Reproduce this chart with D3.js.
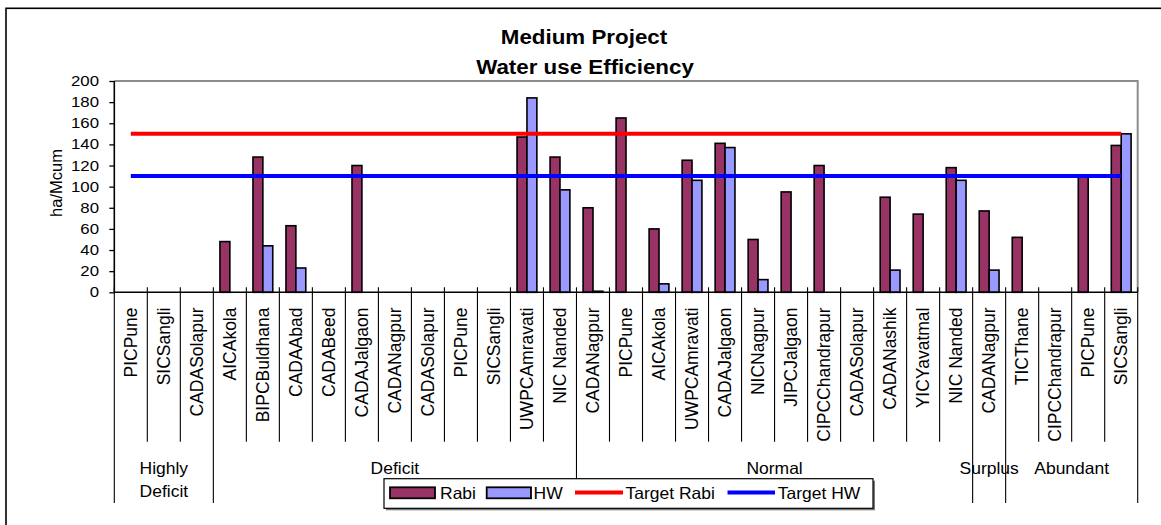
<!DOCTYPE html>
<html>
<head>
<meta charset="utf-8">
<script src="https://cdn.jsdelivr.net/npm/d3@7/dist/d3.min.js"></script>
<style>
  html, body { margin: 0; padding: 0; background: #fff; }
  svg { display: block; }
  text { font-family: "Liberation Sans", Arial, sans-serif; fill: #000; }
</style>
</head>
<body>
<svg id="chart" width="1161" height="525"></svg>
<script>
// Projects (x categories), grouped by water availability zone
const categories = [
  "PICPune", "SICSangli", "CADASolapur",
  "AICAkola", "BIPCBuldhana", "CADAAbad", "CADABeed", "CADAJalgaon", "CADANagpur",
  "CADASolapur", "PICPune", "SICSangli", "UWPCAmravati", "NIC Nanded",
  "CADANagpur", "PICPune", "AICAkola", "UWPCAmravati", "CADAJalgaon", "NICNagpur",
  "JIPCJalgaon", "CIPCChandrapur", "CADASolapur", "CADANashik", "YICYavatmal", "NIC Nanded",
  "CADANagpur",
  "TICThane", "CIPCChandrapur", "PICPune", "SICSangli"
];
const groupNames = [["Highly", "Deficit"], ["Deficit"], ["Normal"], ["Surplus"], ["Abundant"]];
const groupSizes = [3, 11, 12, 1, 4];

// Water use efficiency, ha/Mcum (null = no value)
const rabi = [
  null, null, null,
  48, 128, 63, null, 120, null, null, null, null, 147, 128,
  80, 165, 60, 125, 141, 50, 95, 120, null, 90, 74, 118,
  77,
  52, null, 109, 139
];
const hw = [
  null, null, null,
  null, 44, 23, null, null, null, null, null, null, 184, 97,
  1, null, 8, 106, 137, 12, null, null, null, 21, null, 106,
  21,
  null, null, null, 150
];
const targetRabi = [150, 150];
const targetHW = [110, 110];
const yTicks = [0, 20, 40, 60, 80, 100, 120, 140, 160, 180, 200];

const svg = d3.select("#chart");
const plotL = 114.3, plotR = 1137.7, plotT = 81, plotB = 292.3;

const x = d3.scaleBand().domain(d3.range(categories.length)).range([plotL, plotR]).padding(0);
const y = d3.scaleLinear().domain([0, 200]).range([plotB, plotT]);
const step = x.step();
const cx = i => x(i) + step / 2;
const bw = step * 0.3;

// text placed at the origin, then moved, rotated and widened by a transform
function label(g, str, tx, ty, opts) {
  return g.append("text")
    .attr("transform", `translate(${tx},${ty}) ${opts.rotate ? "rotate(-90)" : ""} scale(${opts.sx || 1},1)`)
    .attr("text-anchor", opts.anchor || "start")
    .style("font-size", opts.size + "px")
    .style("font-weight", opts.weight || "normal")
    .text(str);
}

// outer chart frame
svg.append("rect").attr("x", 6).attr("y", 8.3).attr("width", 1200).attr("height", 600)
  .attr("fill", "none").attr("stroke", "#000").attr("stroke-width", 1.6);

// title
label(svg, "Medium Project", 584, 43.5, { anchor: "middle", size: 20.5, weight: "bold", sx: 1.09 });
label(svg, "Water use Efficiency", 585, 73.5, { anchor: "middle", size: 20.5, weight: "bold", sx: 1.09 });

// plot area border (top and right)
svg.append("path")
  .attr("d", `M${plotL},${plotT}H${plotR}V${plotB}`)
  .attr("fill", "none").attr("stroke", "#8c8c8c").attr("stroke-width", 2);

// bars
const bars = svg.append("g");
bars.selectAll("rect.rabi")
  .data(rabi.map((v, i) => ({ v, i })).filter(d => d.v !== null))
  .join("rect").attr("class", "rabi")
  .attr("x", d => cx(d.i) - bw).attr("width", bw)
  .attr("y", d => y(d.v)).attr("height", d => y(0) - y(d.v))
  .attr("fill", "#993366").attr("stroke", "#000").attr("stroke-width", 1.6);
bars.selectAll("rect.hw")
  .data(hw.map((v, i) => ({ v, i })).filter(d => d.v !== null))
  .join("rect").attr("class", "hw")
  .attr("x", d => cx(d.i)).attr("width", bw)
  .attr("y", d => y(d.v)).attr("height", d => y(0) - y(d.v))
  .attr("fill", "#9999ff").attr("stroke", "#000").attr("stroke-width", 1.6);

// target lines from first to last category centre
const last = categories.length - 1;
const line = d3.line().x(d => d[0]).y(d => y(d[1]));
svg.append("path").attr("d", line([[cx(0), targetRabi[0]], [cx(last), targetRabi[1]]]))
  .attr("stroke", "#ff0000").attr("stroke-width", 4).attr("fill", "none");
svg.append("path").attr("d", line([[cx(0), targetHW[0]], [cx(last), targetHW[1]]]))
  .attr("stroke", "#0000ff").attr("stroke-width", 4).attr("fill", "none");

// y axis
const yAxis = svg.append("g").attr("transform", `translate(${plotL},0)`)
  .call(d3.axisLeft(y).tickValues(yTicks).tickSize(5).tickFormat(""));
yAxis.select(".domain").attr("stroke", "#000").attr("stroke-width", 1.6).attr("d", `M0,${plotT}V${plotB}`);
yAxis.selectAll(".tick line").attr("stroke", "#000").attr("stroke-width", 1.3);
yTicks.forEach(v => label(svg, String(v), 99, y(v) + 5, { anchor: "end", size: 14, sx: 1.2 }));

label(svg, "ha/Mcum", 61.5, 183, { anchor: "middle", size: 16.5, rotate: true, sx: 1 });

// x axis line
svg.append("line").attr("x1", plotL).attr("x2", plotR).attr("y1", plotB).attr("y2", plotB)
  .attr("stroke", "#000").attr("stroke-width", 1.6);

// category separators; zone boundaries reach further down
const boundaries = d3.range(categories.length + 1);
const groupEdges = new Set(d3.cumsum([0, ...groupSizes]));
svg.append("g").selectAll("line").data(boundaries).join("line")
  .attr("x1", i => plotL + i * step).attr("x2", i => plotL + i * step)
  .attr("y1", plotB - 5)
  .attr("y2", i => groupEdges.has(i) ? 503 : 441.7)
  .attr("stroke", "#000").attr("stroke-width", 1.1);

// category labels
categories.forEach((c, i) => label(svg, c, cx(i) + 6.2, 307.5, { anchor: "end", size: 17.5, rotate: true }));

// zone labels
let start = 0;
groupNames.forEach((lines, gi) => {
  const mid = plotL + (start + groupSizes[gi] / 2) * step;
  lines.forEach((s, li) => label(svg, s, mid, 474 + li * 23, { anchor: "middle", size: 16.5, sx: 1.06 }));
  start += groupSizes[gi];
});

// legend
const lg = svg.append("g");
lg.append("rect").attr("x", 386).attr("y", 480.7).attr("width", 489).attr("height", 29.6).attr("fill", "#7a7a7a");
lg.append("rect").attr("x", 384).attr("y", 478.7).attr("width", 489).attr("height", 29.6)
  .attr("fill", "#fff").attr("stroke", "#000").attr("stroke-width", 1.2);
lg.append("rect").attr("x", 390).attr("y", 487.3).attr("width", 45).attr("height", 11)
  .attr("fill", "#993366").attr("stroke", "#000").attr("stroke-width", 1.8);
label(lg, "Rabi", 440, 499, { size: 16.5, sx: 1.06 });
lg.append("rect").attr("x", 486.7).attr("y", 487.3).attr("width", 44.3).attr("height", 11)
  .attr("fill", "#9999ff").attr("stroke", "#000").attr("stroke-width", 1.8);
label(lg, "HW", 533.5, 499, { size: 16.5, sx: 1.06 });
lg.append("line").attr("x1", 575).attr("x2", 623).attr("y1", 492.5).attr("y2", 492.5)
  .attr("stroke", "#ff0000").attr("stroke-width", 4);
label(lg, "Target Rabi", 625.5, 499, { size: 16.5, sx: 1.06 });
lg.append("line").attr("x1", 727.5).attr("x2", 775).attr("y1", 492.5).attr("y2", 492.5)
  .attr("stroke", "#0000ff").attr("stroke-width", 4);
label(lg, "Target HW", 777.7, 499, { size: 16.5, sx: 1.06 });
</script>
</body>
</html>
